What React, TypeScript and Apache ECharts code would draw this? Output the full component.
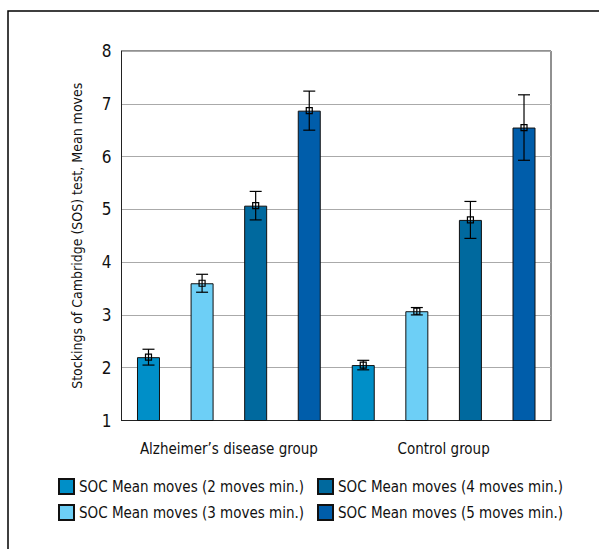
import React, { useEffect, useRef } from "react";
import * as echarts from "echarts";

const categories = ["Alzheimer’s disease group", "Control group"];
const seriesNames = [
  "SOC Mean moves (2 moves min.)",
  "SOC Mean moves (3 moves min.)",
  "SOC Mean moves (4 moves min.)",
  "SOC Mean moves (5 moves min.)",
];
const means2 = [2.2, 2.05];
const means3 = [3.6, 3.07];
const means4 = [5.07, 4.8];
const means5 = [6.87, 6.55];
const errs2 = [0.15, 0.09];
const errs3 = [0.17, 0.07];
const errs4 = [0.27, 0.35];
const errs5 = [0.37, 0.62];
const yTicks = [1, 2, 3, 4, 5, 6, 7, 8];

const colors = ["#008FC8", "#6DCFF6", "#00699E", "#005DAA"];
const FONT = "'DejaVu Sans Condensed', 'Liberation Sans Narrow', 'Noto Sans', sans-serif";

export default function App() {
  const ref = useRef<HTMLDivElement>(null);
  useEffect(() => {
    if (!ref.current) return;
    const chart = echarts.init(ref.current, null, { renderer: "svg" });
    const allMeans = [means2, means3, means4, means5];
    const allErrs = [errs2, errs3, errs4, errs5];
    const BAR_W = 23;
    const GAP_PCT = 133;
    const step = BAR_W * (1 + GAP_PCT / 100);

    const barSeries = allMeans.map((m, i) => ({
      name: seriesNames[i],
      type: "bar",
      data: m,
      barWidth: BAR_W,
      barGap: GAP_PCT + "%",
      itemStyle: { color: colors[i], borderColor: "#111", borderWidth: 1 },
      z: 2,
    }));

    const errSeries = allMeans.map((m, i) => ({
      name: "err" + i,
      type: "custom",
      z: 5,
      data: m.map((v, k) => [k, v, allErrs[i][k]]),
      encode: { x: 0, y: 1 },
      renderItem: (params: any, api: any) => {
        const k = api.value(0);
        const v = api.value(1);
        const e = api.value(2);
        const c = api.coord([k, v]);
        const hi = api.coord([k, v + e]);
        const lo = api.coord([k, v - e]);
        const x = c[0] + (i - 1.5) * step;
        const cap = 6;
        const sq = 3;
        const st = { stroke: "#000", lineWidth: 1.2, fill: null };
        return {
          type: "group",
          children: [
            { type: "line", shape: { x1: x, y1: hi[1], x2: x, y2: lo[1] }, style: st },
            { type: "line", shape: { x1: x - cap, y1: hi[1], x2: x + cap, y2: hi[1] }, style: st },
            { type: "line", shape: { x1: x - cap, y1: lo[1], x2: x + cap, y2: lo[1] }, style: st },
            {
              type: "rect",
              shape: { x: x - sq, y: c[1] - sq, width: sq * 2, height: sq * 2 },
              style: { stroke: "#000", lineWidth: 1.2, fill: "none" },
            },
          ],
        };
      },
    }));

    const legendCommon = {
      orient: "vertical",
      itemWidth: 15,
      itemHeight: 15,
      itemGap: 9,
      padding: 0,
      icon: "rect",
      textStyle: { fontFamily: FONT, fontSize: 15, color: "#111" },
    };

    chart.setOption({
      animation: false,
      backgroundColor: "#fff",
      grid: {
        left: 121.5,
        right: 48,
        top: 51,
        bottom: 128.5,
        show: true,
        borderColor: "#222",
        borderWidth: 1,
        backgroundColor: "transparent",
      },
      xAxis: {
        type: "category",
        data: categories,
        axisTick: { show: false },
        axisLine: { lineStyle: { color: "#222" } },
        axisLabel: { fontFamily: FONT, fontSize: 15, color: "#111", margin: 21, interval: 0 },
      },
      yAxis: {
        type: "value",
        min: yTicks[0],
        max: yTicks[yTicks.length - 1],
        interval: 1,
        name: "Stockings of Cambridge (SOS) test, Mean moves",
        nameLocation: "middle",
        nameGap: 38,
        nameTextStyle: { fontFamily: FONT, fontSize: 14, color: "#111" },
        axisLine: { show: true, lineStyle: { color: "#222" } },
        axisTick: { show: false },
        axisLabel: { fontFamily: FONT, fontSize: 17, color: "#111", margin: 10 },
        splitLine: { lineStyle: { color: "#aaa", width: 1 } },
      },
      legend: [
        { ...legendCommon, left: 58, top: 478, data: [seriesNames[0], seriesNames[1]] },
        { ...legendCommon, left: 317, top: 478, data: [seriesNames[2], seriesNames[3]] },
      ],
      graphic: [
        {
          type: "rect",
          shape: { x: 8, y: 11, width: 800, height: 800 },
          style: { stroke: "#000", lineWidth: 1.5, fill: "none" },
          silent: true,
        },
      ],
      series: [...barSeries, ...errSeries],
    });
    return () => chart.dispose();
  }, []);
  return (
    <div
      ref={ref}
      style={{ width: 599, height: 549, position: "fixed", left: 0, top: 0 }}
    />
  );
}
